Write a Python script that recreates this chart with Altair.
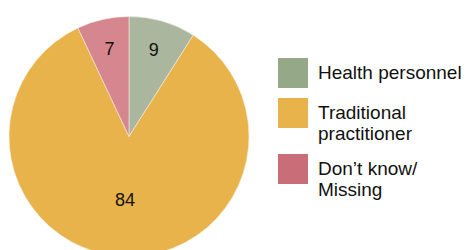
import altair as alt
import pandas as pd
import math

categories = ["Health personnel", "Traditional practitioner", "Don’t know/ Missing"]
values = [9, 84, 7]
slice_colors = ["#aab69d", "#e8b34a", "#d6868f"]
legend_colors = ["#95a888", "#e8b34a", "#c96d78"]

df = pd.DataFrame({
    "category": categories,
    "value": values,
    "order": [0, 1, 2],
    "slice_color": slice_colors,
})

FONT = "Liberation Sans"
CX, CY = 121, 128.5

arcs = alt.Chart(df).mark_arc(radius=120, stroke="#f4efe4", strokeWidth=0.6).encode(
    theta=alt.Theta("value:Q", stack=True),
    order=alt.Order("order:Q"),
    fill=alt.Fill("slice_color:N", scale=None),
    x=alt.value(CX),
    y=alt.value(CY),
)

theta_scale = alt.Scale(domain=[0, 100], range=[0, 2 * math.pi])

label_base = alt.Chart(df).transform_window(
    cum="sum(value)", sort=[alt.SortField("order")]
).transform_calculate(
    mid="datum.cum - datum.value / 2"
)

labels_small = label_base.transform_filter("datum.value < 50").mark_text(
    font=FONT, fontSize=18, color="#111111", radius=89
).encode(
    theta=alt.Theta("mid:Q", scale=theta_scale, stack=None),
    text=alt.Text("value:Q"),
    x=alt.value(CX),
    y=alt.value(CY),
)

labels_big = label_base.transform_filter("datum.value >= 50").mark_text(
    font=FONT, fontSize=18, color="#111111", radius=65
).encode(
    theta=alt.Theta("mid:Q", scale=theta_scale, stack=None),
    text=alt.Text("value:Q"),
    x=alt.value(CX),
    y=alt.value(CY),
)

legend_layer = alt.Chart(df).mark_square(opacity=0, size=1).encode(
    color=alt.Color(
        "category:N",
        scale=alt.Scale(domain=categories, range=legend_colors),
        sort=categories,
        legend=alt.Legend(
            title=None,
            orient="none",
            legendX=270,
            legendY=50,
            symbolType="square",
            symbolSize=900,
            symbolOpacity=1,
            symbolStrokeWidth=0,
            labelFont=FONT,
            labelFontSize=19,
            labelColor="#111111",
            labelLimit=300,
            labelOffset=10,
            labelExpr="datum.label == 'Traditional practitioner' ? ['Traditional', 'practitioner'] : (datum.label == 'Health personnel' ? 'Health personnel' : ['Don’t know/', 'Missing'])",
            rowPadding=10,
        ),
    ),
    x=alt.value(0),
    y=alt.value(0),
)

chart = alt.layer(arcs, labels_small, labels_big, legend_layer).properties(
    width=453,
    height=242,
    padding=0,
    autosize=alt.AutoSizeParams(type="none"),
).configure(background="white").configure_view(strokeWidth=0, stroke="transparent")

chart.save("out.html", embed_options={"renderer": "svg", "actions": False})
